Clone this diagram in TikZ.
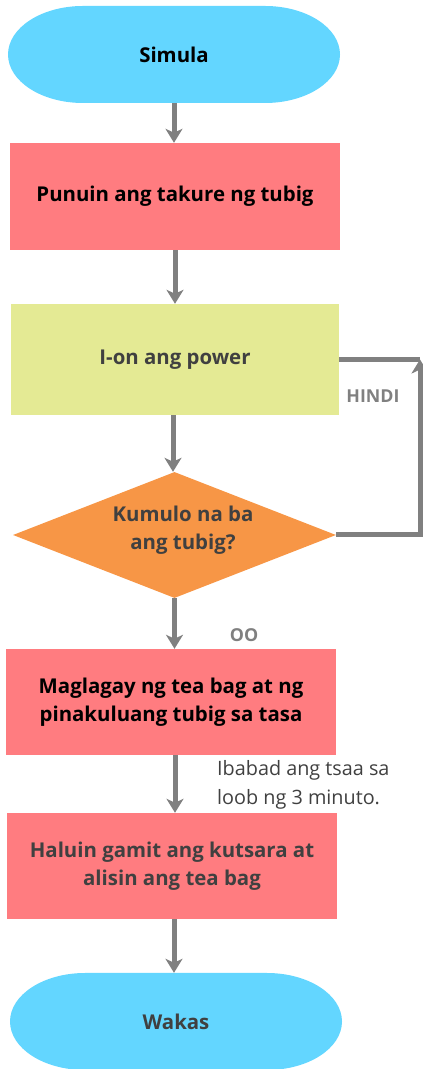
\documentclass[tikz,border=0pt]{standalone}
\usepackage{fontspec}
\setmainfont{Open Sans}
\usetikzlibrary{shapes.geometric,arrows.meta}
\definecolor{termblue}{HTML}{63D6FF}
\definecolor{steppink}{HTML}{FF7C80}
\definecolor{steplime}{HTML}{E4EA94}
\definecolor{decorange}{HTML}{F79646}
\definecolor{linegray}{HTML}{808080}
\definecolor{textdark}{HTML}{404040}
\tikzset{
  base/.style={inner sep=0pt, align=center, font=\fontsize{20.4}{28}\selectfont\bfseries},
  stepbox/.style={base, rectangle, minimum width=330pt, minimum height=107pt},
  terminal/.style={base, rectangle, minimum width=332pt, minimum height=97pt,
    path picture={
      \fill[termblue]
        ([xshift=75pt]path picture bounding box.north west)
        -- ([xshift=-75pt]path picture bounding box.north east)
        arc[start angle=90, end angle=-90, x radius=75pt, y radius=48.5pt]
        -- ([xshift=75pt]path picture bounding box.south west)
        arc[start angle=270, end angle=90, x radius=75pt, y radius=48.5pt]
        -- cycle;}},
  decision/.style={base, diamond, minimum width=323pt, minimum height=126pt,
    fill=decorange, aspect=2.56},
  flow/.style={draw=linegray, line width=5pt,
    -{Stealth[length=14pt, width=17pt, inset=4pt]}},
  loopline/.style={draw=linegray, line width=5pt},
  branch/.style={text=linegray, font=\fontsize{17.8}{20}\selectfont\bfseries, inner sep=0pt},
  note/.style={text=textdark, font=\fontsize{19.8}{29.5}\selectfont, align=left, inner sep=0pt, anchor=west}
}
\begin{document}
\begin{tikzpicture}[x=1pt, y=1pt]
  \useasboundingbox (0,0) rectangle (423,1069);
  \clip (0,0) rectangle (423,1069);

  % process steps, top to bottom
  \node[terminal, text=black] (start) at (174,1014.5) {Simula};
  \node[stepbox, fill=steppink, text=black] (fill) at (175,872.5) {Punuin ang takure ng tubig};
  \node[stepbox, fill=steplime, text=textdark, minimum width=328pt, minimum height=111pt]
    (power) at (175,709.5) {I-on ang power};
  \node[decision, text=textdark] (boil) at (174.5,534) {};
  \node[base, text=textdark] (boiltext) at (183,539) {Kumulo na ba\\ang tubig?};
  \node[stepbox, fill=steppink, text=black, minimum height=106pt]
    (pour) at (171,367) {Maglagay ng tea bag at ng\\pinakuluang tubig sa tasa};
  \node[stepbox, fill=steppink, text=textdark, minimum height=106pt]
    (stir) at (172,203) {Haluin gamit ang kutsara at\\alisin ang tea bag};
  \node[terminal, text=textdark] (stop) at (176,1069-1021.5) {Wakas};

  % connectors
  \draw[flow] (start.south) -- (start.south |- fill.north);
  \draw[flow] (fill.south) -- (fill.south |- power.north);
  \draw[flow] ([xshift=-2pt]power.south) -- ([xshift=-2pt]power.south |- boil.north);
  \draw[flow] (boil.south) -- (boil.south |- pour.north);
  \draw[flow] ([xshift=4pt]pour.south) -- ([xshift=4pt]pour.south |- stir.north);
  \draw[flow] ([xshift=2pt]stir.south) -- ([xshift=2pt]stir.south |- stop.north);

  % loop back while the water is not yet boiling
  \coordinate (loopcorner) at (420,709.5);
  \draw[loopline] (power.east) -- (loopcorner);
  \draw[flow] (boil.east) -- (boil.east -| loopcorner) -- (loopcorner);

  % branch labels and note
  \node[branch] (no) at (373,673) {HINDI};
  \node[branch] (yes) at (244,434) {OO};
  \node[note] (soak) at (217,284) {Ibabad ang tsaa sa\\loob ng 3 minuto.};
\end{tikzpicture}
\end{document}
